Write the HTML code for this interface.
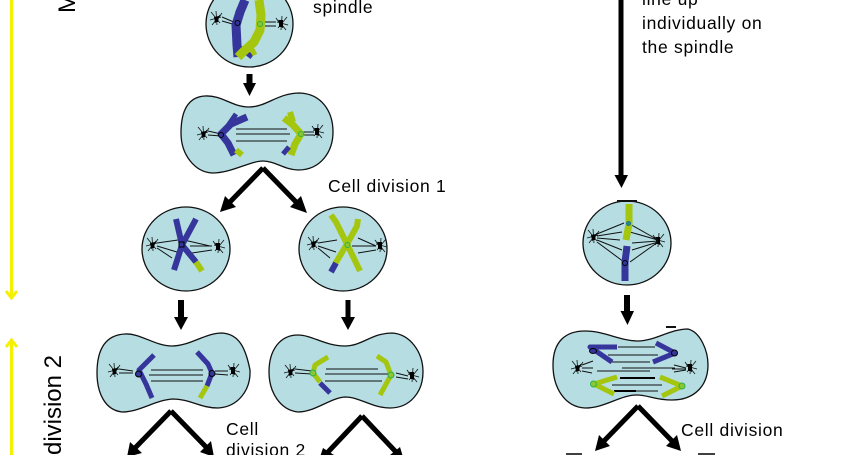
<!DOCTYPE html>
<html><head><meta charset="utf-8">
<style>
html,body{margin:0;padding:0;background:#fff;width:866px;height:455px;overflow:hidden}
svg{display:block}
text{font-family:"Liberation Sans",sans-serif;fill:#000}
.l{font-size:17.500px;letter-spacing:.7px}
.cell{fill:#b5dde2;stroke:#111;stroke-width:1.300}
.b{fill:none;stroke:#35359c;stroke-linecap:butt;stroke-linejoin:round}
.g{fill:none;stroke:#a4c60e;stroke-linecap:butt;stroke-linejoin:round}
.s{stroke:#111;stroke-width:1;fill:none}
</style></head>
<body>
<svg width="866" height="455" viewBox="0 0 866 455" xmlns="http://www.w3.org/2000/svg">
<defs>
<g id="cL">
<path d="M-6-7L3 4M-1-8L0 6M-7 1L4-2M-5 6L3-4M5-6L-2 4" stroke="#111" stroke-width=".8" fill="none"/>
<path d="M-3-2L2-3L1 3L-2 3Z" fill="#000"/>
</g>
<g id="cR">
<path d="M6-7L-3 4M1-8L0 6M7 1L-4-2M5 6L-3-4M-5-6L2 4" stroke="#111" stroke-width=".8" fill="none"/>
<rect x="-2" y="-4" width="4" height="7" fill="#000"/>
</g>
</defs>

<!-- yellow arrows -->
<path d="M11.500 0V297M6 291L11.500 298L17 291" stroke="#f4f000" stroke-width="3" fill="none"/>
<path d="M11.500 455V341M6 347L11.500 340L17 347" stroke="#f4f000" stroke-width="3" fill="none"/>
<text transform="translate(75 13) rotate(-90)" font-size="24">M</text>
<text transform="translate(61 455) rotate(-90)" font-size="24" textLength="100">division 2</text>

<!-- top cell -->
<ellipse class="cell" cx="249.500" cy="24" rx="43.500" ry="43"/>
<use href="#cL" x="217" y="19"/><use href="#cR" x="281" y="24"/>
<path d="M222 17L236 23M222 21L236 25M265 22L276 22M265 26L276 26" class="s"/>
<path class="b" stroke-width="9" d="M245 0L240 12L236 25L237 45L238 57"/>
<path class="b" stroke-width="5" d="M240 48L247 53L252 57"/>
<path class="g" stroke-width="9" d="M259 0L261 15L260 30L254 42L243 52L238 57"/>
<path class="g" stroke-width="5" d="M250 46L255 55"/>
<circle cx="237.500" cy="23" r="2.500" fill="#35359c" stroke="#000"/>
<circle cx="260" cy="24" r="2.500" fill="#8dc630" stroke="#2eb04a"/>
<text class="l" x="313" y="13">spindle</text>

<path d="M249.500 74V84" stroke="#000" stroke-width="6"/>
<path d="M243 83H256L249.500 96Z" fill="#000"/>

<!-- anaphase 1 -->
<path class="cell" d="M181 133C181 112 187 97 205 96C222 95 232 107 249 107C267 107 277 93 300 93C322 94 333 112 333 132C333 150 322 170 298 170C285 170 275 161 263 161C250 161 232 173 212 173C195 172 181 155 181 133Z"/>
<use href="#cL" x="204" y="134"/><use href="#cR" x="317" y="132"/>
<path d="M208 131L221 134M208 135L221 136M302 132L314 132M302 135L314 135M236 129H287M236 134H290M236 141H287" class="s"/>
<path class="b" stroke-width="7" d="M247 117L231 124L221 134L228 143L234 155"/>
<path class="b" stroke-width="5" d="M236 114L227 127"/>
<path class="g" stroke-width="6" d="M236 150L242 155"/>
<path class="g" stroke-width="7" d="M284 118L293 125L301 134L295 144L291 155"/>
<path class="g" stroke-width="6" d="M290 112L293 122"/>
<path class="b" stroke-width="5" d="M289 147L283 154"/>
<circle cx="221" cy="135" r="2.500" fill="#35359c" stroke="#000"/>
<circle cx="301" cy="134" r="2.500" fill="#8dc630" stroke="#2eb04a"/>

<!-- V arrows 1 -->
<path d="M263 168L228 204M263 168L298 204" stroke="#000" stroke-width="5" fill="none"/>
<path d="M220 212L225 196L236 207ZM307 213L290 207L301 196Z" fill="#000"/>
<text class="l" x="328" y="192">Cell division 1</text>

<!-- cells 2 -->
<ellipse class="cell" cx="186" cy="249" rx="44" ry="42"/>
<ellipse class="cell" cx="343" cy="249" rx="44" ry="42"/>
<use href="#cL" x="153" y="245"/><use href="#cR" x="218" y="247"/>
<path d="M157 243L178 240M157 246L177 252M157 248L172 258M184 240L210 246M190 246L212 246M192 253L212 250" class="s"/>
<path class="b" stroke-width="6" d="M176 219L182 245L174 270M196 219L182 245L196 262"/>
<path class="g" stroke-width="6" d="M196 262L202 271"/>
<rect x="179" y="242" width="5" height="5" fill="#35359c" stroke="#000"/>
<use href="#cL" x="314" y="244"/><use href="#cR" x="380" y="246"/>
<path d="M318 243L337 240M318 246L336 252M318 248L330 258M358 238L376 246M352 246L376 246M358 253L376 250" class="s"/>
<path class="g" stroke-width="6" d="M331 215L336 222L347 244L360 271M358 219L357 226L347 244L335 264"/>
<path class="b" stroke-width="6" d="M336 263L331 272"/>
<circle cx="347.500" cy="245" r="2.500" fill="#8dc630" stroke="#2eb04a"/>

<path d="M181 300V318" stroke="#000" stroke-width="6"/><path d="M174 317H188L181 330Z" fill="#000"/>
<path d="M348 300V318" stroke="#000" stroke-width="5"/><path d="M341 317H355L348 330Z" fill="#000"/>

<!-- cells 3 -->
<path class="cell" d="M97 373C97 350 105 335 125 334C140 333 155 346 172 346C190 346 205 333 222 333C240 334 246 350 250 370C251 390 238 407 218 408C200 408 190 399 173 399C155 400 140 412 122 412C105 410 97 393 97 373Z"/>
<path class="cell" d="M269 372C269 350 280 335 298 335C312 335 325 346 345 346C362 346 372 333 392 333C410 334 423 352 423 372C423 392 410 408 390 408C372 408 360 397 345 397C330 398 315 412 298 412C280 410 269 392 269 372Z"/>
<use href="#cL" x="115" y="371"/><use href="#cR" x="233" y="371"/>
<path d="M119 369L133 371M119 373L133 373M215 371L228 371M215 374L228 375M151 370H203M149 375H203M151 381H203" class="s"/>
<path class="b" stroke-width="5" d="M154 355L139 370L146 384L152 398"/>
<path class="b" stroke-width="5" d="M197 352L208 364L212 373L207 386"/>
<path class="g" stroke-width="5" d="M207 386L200 398"/>
<circle cx="138.500" cy="374" r="3" fill="#35359c" stroke="#000"/>
<circle cx="212" cy="373.500" r="3" fill="#35359c" stroke="#000"/>
<use href="#cL" x="291" y="372"/><use href="#cR" x="412" y="376"/>
<path d="M295 369L312 371M295 373L312 374M396 373L408 376M396 377L408 379M326 369H378M325 374H390M325 381H382" class="s"/>
<path class="g" stroke-width="5" d="M328 357L315 365L313 373L320 382"/>
<path class="b" stroke-width="5" d="M320 383L330 393"/>
<path class="g" stroke-width="5" d="M377 356L386 362L391 375L380 395"/>
<circle cx="313" cy="373" r="3" fill="#8dc630" stroke="#2eb04a"/>
<circle cx="391" cy="375" r="3" fill="#8dc630" stroke="#2eb04a"/>

<!-- V arrows 3 -->
<path d="M171 411L135 448M171 411L207 448" stroke="#000" stroke-width="5" fill="none"/>
<path d="M127 457L130 442L142 453ZM214 457L200 452L211 441Z" fill="#000"/>
<path d="M362 416L328 452M362 416L396 452" stroke="#000" stroke-width="5" fill="none"/>
<path d="M320 457L323 448L334 455ZM403 457L390 455L400 447Z" fill="#000"/>
<text class="l" x="226" y="435">Cell</text>
<text class="l" x="226" y="456">division 2</text>

<!-- right column -->
<text class="l" x="642" y="5">line up</text>
<text class="l" x="642" y="29">individually on</text>
<text class="l" x="642" y="53">the spindle</text>
<path d="M621 0V178" stroke="#000" stroke-width="5"/>
<path d="M614.500 175H628L621.500 188Z" fill="#000"/>

<ellipse class="cell" cx="627" cy="243" rx="44" ry="42"/>
<path d="M617 201H637" stroke="#111" stroke-width="2"/>
<use href="#cL" x="594" y="237"/><use href="#cR" x="658" y="241"/>
<path d="M597 234L624 223M597 236L622 232M597 238L620 240M597 240L622 250M597 242L624 262M658 240L628 223M658 240L630 232M658 241L632 243M658 242L632 250M658 242L630 262" class="s"/>
<path class="g" stroke-width="7" d="M629 204L629 224L626 240"/>
<path class="b" stroke-width="7" d="M627 246L625 262L625 281"/>
<circle cx="628.500" cy="223.500" r="2" fill="#2a8a8a" stroke="#1a70a0"/>
<circle cx="625" cy="263" r="2.500" fill="#35359c" stroke="#000"/>
<path d="M627 295V314" stroke="#000" stroke-width="6"/><path d="M620.500 311H634L627.500 325Z" fill="#000"/>

<path class="cell" d="M553 365C553 342 565 331 585 331C605 331 620 341 638 341C655 341 670 329 688 329C700 332 708 350 708 365C708 385 695 400 672 400C655 400 648 395 637 395C620 395 605 408 585 408C565 407 553 388 553 365Z"/>
<path d="M666 327H676" stroke="#111" stroke-width="2"/>
<use href="#cL" x="578" y="368"/><use href="#cR" x="690" y="368"/>
<path d="M582 365L593 361M582 368L593 368M582 371L592 373M674 365L686 368M672 369L686 369M674 372L686 370M618 347H655M608 355H658M612 362H650M622 368H675M597 371H650M612 385H662M620 391H658" class="s"/>
<path d="M620 378H655M614 391H636" stroke="#000" stroke-width="2"/>
<path class="b" stroke-width="5" d="M617 347H590L612 362"/>
<path class="b" stroke-width="5" d="M656 343L675 353L653 362"/>
<path class="g" stroke-width="5" d="M617 377L594 384L614 394"/>
<path class="g" stroke-width="5" d="M660 377L682 386L662 396"/>
<ellipse cx="593" cy="351" rx="3.500" ry="2.500" fill="#35359c" stroke="#000"/>
<circle cx="674.500" cy="353" r="3" fill="#35359c" stroke="#000"/>
<circle cx="593.500" cy="384" r="3" fill="#8dc630" stroke="#2eb04a"/>
<circle cx="682" cy="386" r="3" fill="#8dc630" stroke="#2eb04a"/>

<path d="M638 406L603 442M638 406L673 442" stroke="#000" stroke-width="5" fill="none"/>
<path d="M595 451L599 435L610 446ZM681 451L666 446L677 435Z" fill="#000"/>
<text class="l" x="681" y="436">Cell division</text>
<path d="M566 454H582M698 454H715" stroke="#000" stroke-width="1.500"/>
</svg>
</body></html>
